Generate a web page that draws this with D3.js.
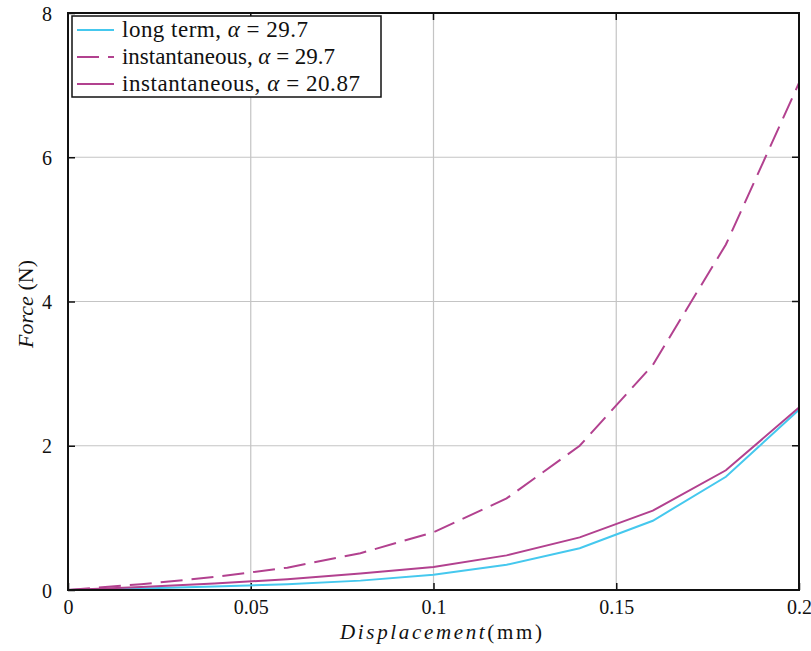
<!DOCTYPE html>
<html>
<head>
<meta charset="utf-8">
<script src="https://cdn.jsdelivr.net/npm/d3@7"></script>
<style>
  body { margin: 0; background: #fff; }
  svg text { font-family: "Liberation Serif", "Times New Roman", serif; fill: #111; }
</style>
</head>
<body>
<svg id="chart" width="811" height="651" font-family="Liberation Serif, serif"></svg>
<script>
// displacement (mm)
const displacement = [0, 0.02, 0.04, 0.06, 0.08, 0.1, 0.12, 0.14, 0.16, 0.18, 0.2];
// force (N)
const longTerm297 = [0, 0.02, 0.05, 0.08, 0.13, 0.21, 0.35, 0.58, 0.96, 1.57, 2.5];
const instant297 = [0, 0.08, 0.18, 0.31, 0.51, 0.8, 1.27, 2.0, 3.12, 4.79, 7.03];
const instant2087 = [0, 0.04, 0.09, 0.15, 0.23, 0.32, 0.48, 0.73, 1.1, 1.66, 2.53];

const xTicks = [0, 0.05, 0.1, 0.15, 0.2];
const xTickLabels = ["0", "0.05", "0.1", "0.15", "0.2"];
const yTicks = [0, 2, 4, 6, 8];

const seriesNames = ["long term, ", "instantaneous, ", "instantaneous, "];
const seriesAlpha = ["29.7", "29.7", "20.87"];

const cyan = "#45c8ee";
const magenta = "#b2418f";

const margin = { top: 13, right: 12, bottom: 61, left: 68 };
const width = 811 - margin.left - margin.right;
const height = 651 - margin.top - margin.bottom;

const svg = d3.select("#chart");
const g = svg.append("g")
  .attr("transform", "translate(" + margin.left + "," + margin.top + ")");

const x = d3.scaleLinear().domain([0, 0.2]).range([0, width]);
const y = d3.scaleLinear().domain([0, 8]).range([height, 0]);

// grid
g.append("g")
  .selectAll("line")
  .data(xTicks.slice(1, -1))
  .enter().append("line")
  .attr("x1", d => x(d)).attr("x2", d => x(d))
  .attr("y1", 0).attr("y2", height)
  .attr("stroke", "#c4c4c4").attr("stroke-width", 1.2);

g.append("g")
  .selectAll("line")
  .data(yTicks.slice(1, -1))
  .enter().append("line")
  .attr("y1", d => y(d)).attr("y2", d => y(d))
  .attr("x1", 0).attr("x2", width)
  .attr("stroke", "#c4c4c4").attr("stroke-width", 1.2);

// axes (inner ticks)
const xAxis = g.append("g")
  .attr("transform", "translate(0," + height + ")")
  .call(d3.axisBottom(x).tickValues(xTicks).tickFormat((d, i) => xTickLabels[i])
    .tickSize(-7).tickSizeOuter(0).tickPadding(10))
  .call(a => a.select(".domain").remove());
xAxis.attr("font-family", null);
xAxis.selectAll("text").style("font-size", "20px").attr("fill", "#111");
xAxis.selectAll("line").attr("stroke", "#111").attr("stroke-width", 1.5);

const yAxis = g.append("g")
  .call(d3.axisLeft(y).tickValues(yTicks).tickFormat(d3.format("d"))
    .tickSize(-7).tickSizeOuter(0).tickPadding(16))
  .call(a => a.select(".domain").remove());
yAxis.attr("font-family", null);
yAxis.selectAll("text").style("font-size", "20px").attr("fill", "#111").attr("dy", "0.35em");
yAxis.selectAll("line").attr("stroke", "#111").attr("stroke-width", 1.5);

// mirrored ticks on right and top
g.append("g")
  .selectAll("line")
  .data(yTicks)
  .enter().append("line")
  .attr("x1", width).attr("x2", width - 7)
  .attr("y1", d => y(d)).attr("y2", d => y(d))
  .attr("stroke", "#111").attr("stroke-width", 1.5);
g.append("g")
  .selectAll("line")
  .data(xTicks)
  .enter().append("line")
  .attr("y1", 0).attr("y2", 7)
  .attr("x1", d => x(d)).attr("x2", d => x(d))
  .attr("stroke", "#111").attr("stroke-width", 1.5);

// lines
const line = d3.line()
  .x((d, i) => x(displacement[i]))
  .y(d => y(d));

g.append("path").datum(longTerm297)
  .attr("d", line).attr("fill", "none")
  .attr("stroke", cyan).attr("stroke-width", 2);
g.append("path").datum(instant297)
  .attr("d", line).attr("fill", "none")
  .attr("stroke", magenta).attr("stroke-width", 2)
  .attr("stroke-dasharray", "22,9");
g.append("path").datum(instant2087)
  .attr("d", line).attr("fill", "none")
  .attr("stroke", magenta).attr("stroke-width", 2);

// frame
g.append("rect")
  .attr("x", 0).attr("y", 0).attr("width", width).attr("height", height)
  .attr("fill", "none").attr("stroke", "#111").attr("stroke-width", 2);

// axis labels
const xl = svg.append("text")
  .attr("x", 340).attr("y", 639)
  .attr("textLength", 202).attr("lengthAdjust", "spacing")
  .style("font-size", "21px");
xl.append("tspan").attr("font-style", "italic").text("Displacement");
xl.append("tspan").text("(mm)");

const yl = svg.append("text")
  .attr("transform", "translate(33,348) rotate(-90)")
  .attr("textLength", 88).attr("lengthAdjust", "spacing")
  .style("font-size", "22px");
yl.append("tspan").attr("font-style", "italic").text("Force");
yl.append("tspan").text(" (N)");

// legend
const legend = svg.append("g").attr("transform", "translate(72,16)");
legend.append("rect")
  .attr("width", 309).attr("height", 81)
  .attr("fill", "#fff").attr("stroke", "#111").attr("stroke-width", 1.5);

const legendStyle = [
  { color: cyan, dash: null, len: 186 },
  { color: magenta, dash: "22,9", len: 213 },
  { color: magenta, dash: null, len: 238 }
];

seriesNames.forEach((name, i) => {
  const row = legend.append("g").attr("transform", "translate(0," + (14 + i * 27) + ")");
  row.append("line")
    .attr("x1", 5).attr("x2", 42).attr("y1", 0).attr("y2", 0)
    .attr("stroke", legendStyle[i].color).attr("stroke-width", 2)
    .attr("stroke-dasharray", legendStyle[i].dash);
  const t = row.append("text").attr("x", 50).attr("y", 7)
    .attr("textLength", legendStyle[i].len).attr("lengthAdjust", "spacing")
    .style("font-size", "23px");
  t.append("tspan").text(name);
  t.append("tspan").attr("font-style", "italic").text("α");
  t.append("tspan").text(" = " + seriesAlpha[i]);
});
</script>
</body>
</html>
